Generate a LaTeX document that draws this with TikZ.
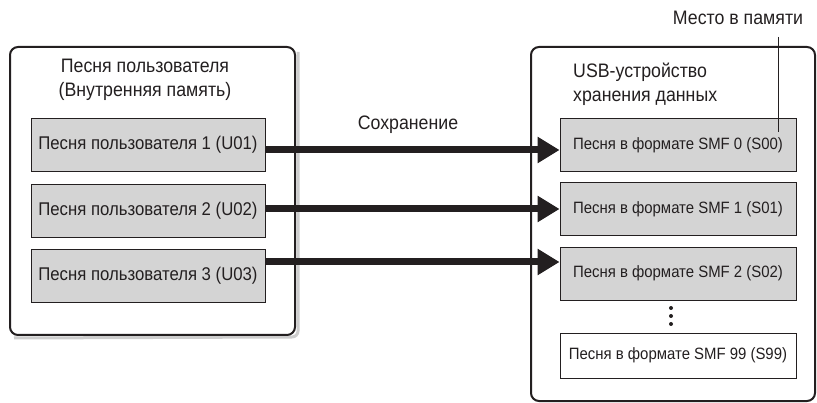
\documentclass[tikz,border=0pt]{standalone}
\usepackage{fontspec}
\setmainfont[FakeStretch=0.91]{Liberation Sans}
\usetikzlibrary{arrows.meta}
\definecolor{boxgray}{RGB}{212,212,212}
\definecolor{shadowgray}{RGB}{205,205,205}
\definecolor{ink}{RGB}{35,31,32}
\tikzset{
  outerbox/.style={draw=ink, line width=2pt, rounded corners=8pt, fill=white},
  songbox/.style={draw=ink, line width=0.9pt, fill=boxgray, minimum width=234pt, minimum height=53pt, inner sep=0pt, font=\fontsize{18.4}{21}\selectfont, text=ink},
  smfbox/.style={draw=ink, line width=0.9pt, fill=boxgray, minimum width=236pt, minimum height=53pt, inner sep=0pt, font=\fontsize{16.4}{20}\selectfont, text=ink},
  savearrow/.style={draw=ink, line width=7pt, -{Triangle[length=22pt,width=25pt]}, shorten >=0pt},
  lbl/.style={font=\fontsize{19.5}{24}\selectfont, text=ink, inner sep=0pt}
}
\begin{document}
\begin{tikzpicture}[x=1pt,y=-1pt]
\useasboundingbox (0,0) rectangle (817,403);
\begin{scope}
\clip (0,0) rectangle (817,403);
% shadows
\draw[shadowgray, line width=3pt] (298,52) -- (298,331) arc (0:90:6) -- (14,338);
\draw[shadowgray, line width=3pt] (818,52) -- (818,403);
% outer boxes
\draw[outerbox] (10,47) rectangle (295,335);
\draw[outerbox] (531,47) rectangle (815,401);
\end{scope}
% left titles
\node[lbl, align=center] (ltitle) at (145,80) {Песня пользователя\\(Внутренняя память)};
% left song boxes
\node[songbox] (u1) at (148,145) {Песня пользователя 1 (U01)};
\node[songbox] (u2) at (148,210.5) {Песня пользователя 2 (U02)};
\node[songbox] (u3) at (148,275.5) {Песня пользователя 3 (U03)};
% right title
\node[lbl, align=left, anchor=west] (rtitle) at (573,84) {USB-устройство\\хранения данных};
% right boxes
\node[smfbox] (s0) at (678,145) {Песня в формате SMF 0 (S00)};
\node[smfbox] (s1) at (678,209) {Песня в формате SMF 1 (S01)};
\node[smfbox] (s2) at (678,273.5) {Песня в формате SMF 2 (S02)};
\node[smfbox, fill=white, minimum height=45pt] (s99) at (678,355.5) {Песня в формате SMF 99 (S99)};
% dots
\foreach \yy/\nm in {308/d1,316/d2,324/d3}
  \fill[ink] (671,\yy) circle (2pt) coordinate (\nm);
% arrows
\coordinate (a1s) at (u1.east |- 0,150);
\coordinate (a1e) at (s0.west |- 0,150);
\coordinate (a2s) at (u2.east |- 0,209);
\coordinate (a2e) at (s1.west |- 0,209);
\coordinate (a3s) at (u3.east |- 0,262);
\coordinate (a3e) at (s2.west |- 0,262);
\draw[savearrow] (a1s) -- (a1e);
\draw[savearrow] (a2s) -- (a2e);
\draw[savearrow] (a3s) -- (a3e);
\node[lbl] (save) at (408,125) {Сохранение};
% memory location label
\node[lbl] (mem) at (738,18) {Место в памяти};
\coordinate (memend) at (778,132);
\draw[ink, line width=0.8pt] (778,37) -- (memend);
\end{tikzpicture}
\end{document}
